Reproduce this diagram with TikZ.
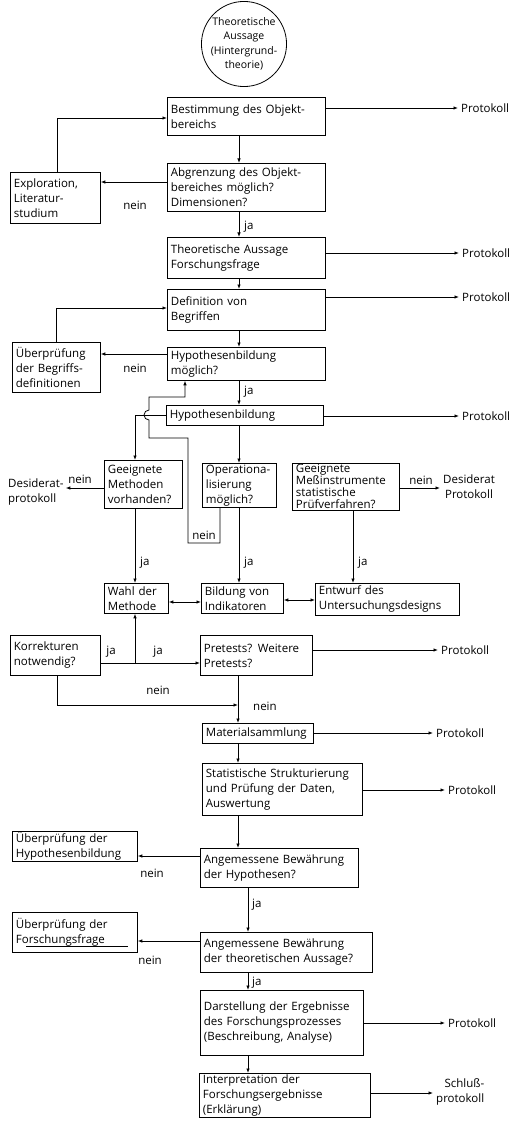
\documentclass[tikz,border=0pt]{standalone}
\usepackage{fontspec}
\setmainfont{Open Sans}
\usetikzlibrary{arrows.meta}
\begin{document}
\begin{tikzpicture}[x=1pt,y=-1pt,
  every node/.style={font=\fontsize{11.5}{15}\selectfont},
  box/.style={draw, line width=0.8pt, anchor=north west, align=left, inner xsep=3.5pt, inner ysep=1pt},
  lab/.style={inner sep=1pt},
  prot/.style={inner sep=3pt, anchor=west},
  arr/.style={line width=0.8pt, -{Latex[length=4.5pt,width=3.5pt]}},
  darr/.style={line width=0.8pt, {Latex[length=4.5pt,width=3.5pt]}-{Latex[length=4.5pt,width=3.5pt]}},
  ln/.style={line width=0.8pt}
]
\newcommand\bx[6]{\pgfmathsetmacro\mytw{#4-7}\node[box, minimum width=#4pt, minimum height=#5pt, text width=\mytw pt] (#1) at (#2,#3) {#6};}
\useasboundingbox (0,0) rectangle (513,1123);
\coordinate (xA) at (239,0);
\coordinate (xB) at (238,0);
\coordinate (xC) at (248,0);

% circle
\node[draw, circle, line width=0.8pt, minimum size=80pt, align=center, inner sep=0pt,
      font=\fontsize{10.5}{14.5}\selectfont] (c) at (244,44) {Theoretische\\Aussage\\(Hintergrund-\\theorie)};

% boxes
\bx{b1}{167}{97}{158}{38}{Bestimmung des Objekt-\\bereichs}
\bx{b2}{167}{163}{158}{48}{Abgrenzung des Objekt-\\bereiches möglich?\\Dimensionen?}
\bx{expl}{10}{172}{90}{51}{Exploration,\\Literatur-\\studium}
\bx{b3}{167}{237}{158}{41}{Theoretische Aussage\\Forschungsfrage}
\bx{b4}{167}{289}{158}{41}{Definition von\\Begriffen}
\bx{ueb1}{12}{342}{88}{50}{Überprüfung\\der Begriffs-\\definitionen}
\bx{b5}{167}{347}{158}{33}{Hypothesenbildung\\möglich?}
\bx{b6}{166}{405}{157}{20}{Hypothesenbildung}
\bx{b7}{104}{460}{78}{48}{Geeignete\\Methoden\\vorhanden?}
\bx{b8}{202}{463}{74}{44}{Operationa-\\lisierung\\möglich?}
\node[box, minimum width=107pt, minimum height=46pt, text width=100pt, font=\fontsize{11.5}{12}\selectfont] (b9) at (292,463) {Geeignete\\Meßinstrumente\\statistische\\Prüfverfahren?};
\bx{wahl}{104}{583}{64}{30}{Wahl der\\Methode}
\bx{bild}{201}{583}{82}{30}{Bildung von\\Indikatoren}
\bx{entw}{315}{583}{144}{32}{Entwurf des\\Untersuchungsdesigns}
\bx{korr}{10}{635}{90}{40}{Korrekturen\\notwendig?}
\bx{pre}{200}{635}{112}{40}{Pretests? Weitere\\Pretests?}
\bx{mat}{202}{723}{111}{20}{Materialsammlung}
\bx{stat}{202}{763}{160}{52}{Statistische Strukturierung\\und Prüfung der Daten,\\Auswertung}
\bx{ueb2}{12}{831}{125}{30}{Überprüfung der\\Hypothesenbildung}
\bx{ang1}{200}{848}{158}{39}{Angemessene Bewährung\\der Hypothesen?}
\bx{ueb3}{12}{912}{125}{40}{Überprüfung der\\Forschungsfrage}
\bx{ang2}{200}{932}{172}{40}{Angemessene Bewährung\\der theoretischen Aussage?}
\bx{dar}{200}{990}{163}{65}{Darstellung der Ergebnisse\\des Forschungsprozesses\\(Beschreibung, Analyse)}
\bx{int}{199}{1073}{171}{44}{Interpretation der\\Forschungsergebnisse\\(Erklärung)}

% underline mark in the scan
\draw[line width=1.4pt] (26,946.5) -- (128,946.5);

% protocol labels
\node[prot] (p1) at (458,108) {Protokoll};
\node[prot] (p3) at (459,253) {Protokoll};
\node[prot] (p4) at (459,297) {Protokoll};
\node[prot] (p6) at (459,416) {Protokoll};
\node[prot] (ppre) at (438,650) {Protokoll};
\node[prot] (pmat) at (433,733) {Protokoll};
\node[prot] (pstat) at (445,790) {Protokoll};
\node[prot] (pdar) at (445,1023) {Protokoll};
\node[prot, align=right] (pint) at (433,1092) {Schluß-\\protokoll};
\node[inner sep=2pt, anchor=north west, align=left] (desL) at (6,477) {Desiderat-\\protokoll};
\node[inner sep=3pt, anchor=west, align=center] (desR) at (440,487) {Desiderat\\Protokoll};

% main spine
\draw[arr] (b1.south -| xA) -- (b2.north -| xA);
\draw[arr] (b2.south -| xA) -- (b3.north -| xA);
\draw[arr] (b3.south -| xA) -- (b4.north -| xA);
\draw[arr] (b4.south -| xA) -- (b5.north -| xA);
\draw[arr] (b5.south -| xA) -- (b6.north -| xA);
\draw[arr] (b6.south -| xA) -- (b8.north -| xA);
\node[lab, anchor=west] at (243,227) {ja};
\node[lab, anchor=west] at (243,392) {ja};

% left loops
\draw[arr] (b2.west |- 0,182) -- (expl.east |- 0,182);
\node[lab] at (135,205) {nein};
\draw[arr] (expl.north -| 57,0) |- (b1.west |- 0,118);
\draw[arr] (b5.west |- 0,354) -- (ueb1.east |- 0,354);
\node[lab] at (135,368) {nein};
\draw[arr] (ueb1.north -| 56,0) |- (b4.west |- 0,308);

% protocol arrows
\draw[arr] (b1.east |- p1.west) -- (p1.west);
\draw[arr] (b3.east |- p3.west) -- (p3.west);
\draw[arr] (b4.east |- p4.west) -- (p4.west);
\draw[arr] (b6.east |- p6.west) -- (p6.west);
\draw[arr] (pre.east |- ppre.west) -- (ppre.west);
\draw[arr] (mat.east |- pmat.west) -- (pmat.west);
\draw[arr] (stat.east |- pstat.west) -- (pstat.west);
\draw[arr] (dar.east |- pdar.west) -- (pdar.west);
\draw[arr] (int.east |- 0,1093) -- (pint.west |- 0,1093);

% hypothesis branch
\draw[arr] (b6.west) -| (b7.north -| 135,0);
\draw[arr] (b8.south -| 220,0) -- (220,543) -- (188,543) -- (188,438) -- (149,438) -- (149,420)
   arc[start angle=-90, end angle=-270, radius=5pt] -- (149,397) -- (185,397) -- (b5.south -| 185,0);
\node[lab] at (204,535) {nein};

\draw[arr] (b7.west |- 0,488) -- (desL.east |- 0,488);
\node[lab] at (80,479) {nein};
\draw[arr] (b9.east |- 0,488) -- (desR.west |- 0,488);
\node[lab] at (421,480) {nein};

\draw[arr] (b7.south -| 135,0) -- (wahl.north -| 135,0);
\node[lab, anchor=west] at (139,563) {ja};
\draw[arr] (b8.south -| xA) -- (bild.north -| xA);
\node[lab, anchor=west] at (243,563) {ja};
\draw[arr] (b9.south -| 353,0) -- (entw.north -| 353,0);
\node[lab, anchor=west] at (357,563) {ja};

\draw[darr] (wahl.east |- 0,602) -- (bild.west |- 0,602);
\draw[darr] (bild.east |- 0,600) -- (entw.west |- 0,600);

% pretests
\coordinate (jk) at (135,663);
\draw[arr] (korr.east |- jk) -- (pre.west |- jk);
\draw[arr] (jk) -- (wahl.south -| jk);
\node[lab] at (111,652) {ja};
\node[lab] at (158,652) {ja};
\coordinate (jn) at (238,705);
\draw[arr] (korr.south -| 57,0) |- (jn);
\node[lab] at (158,690) {nein};
\draw[arr] (pre.south -| xB) -- (mat.north -| xB);
\node[lab, anchor=west] at (252,706) {nein};
\draw[arr] (mat.south -| xB) -- (stat.north -| xB);
\draw[arr] (stat.south -| xB) -- (ang1.north -| xB);

% evaluation
\draw[arr] (ang1.west |- 0,856) -- (ueb2.east |- 0,856);
\node[lab] at (152,873) {nein};
\draw[arr] (ang1.south -| xC) -- (ang2.north -| xC);
\node[lab, anchor=west] at (251,905) {ja};
\draw[arr] (ang2.west |- 0,941) -- (ueb3.east |- 0,941);
\node[lab] at (150,960) {nein};
\draw[arr] (ang2.south -| xC) -- (dar.north -| xC);
\node[lab, anchor=west] at (251,983) {ja};
\draw[arr] (dar.south -| xC) -- (int.north -| xC);
\end{tikzpicture}
\end{document}
